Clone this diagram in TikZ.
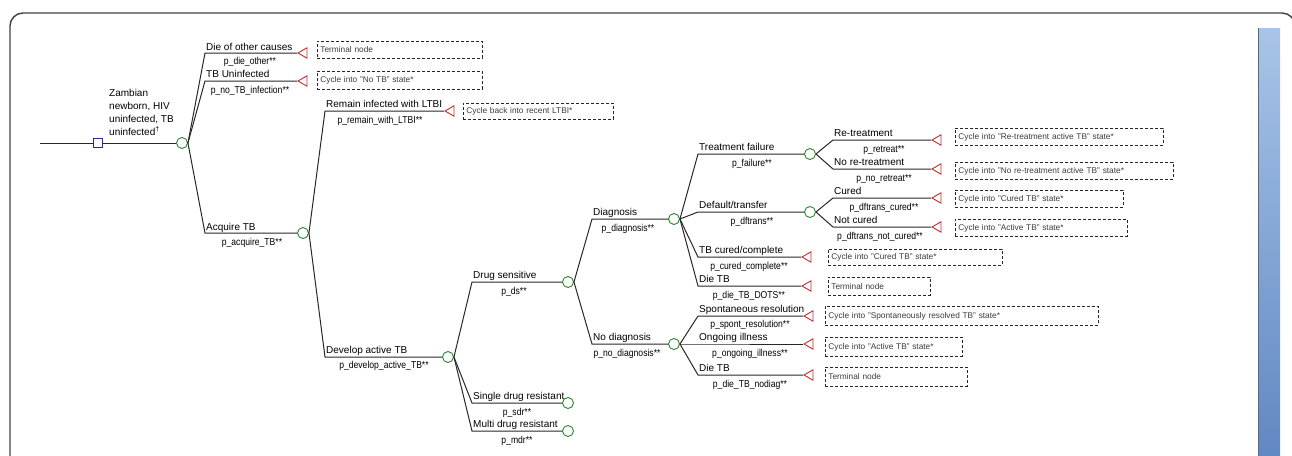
\documentclass[tikz,border=0pt]{standalone}
\usepackage{fontspec}
\setmainfont{Liberation Sans}
\newfontfamily\narrowfont[FakeStretch=0.86]{Liberation Sans}
\usetikzlibrary{shapes,positioning}
\definecolor{treeline}{RGB}{40,40,40}
\definecolor{chancegreen}{RGB}{40,135,40}
\definecolor{termred}{RGB}{200,45,45}
\definecolor{decblue}{RGB}{40,40,160}
\definecolor{barlight}{RGB}{168,196,232}
\definecolor{barmid}{RGB}{106,142,196}
\definecolor{bardark}{RGB}{96,136,194}
\definecolor{boxtext}{RGB}{60,60,60}

\begin{document}
\begin{tikzpicture}[x=1pt,y=-1pt]
\tikzstyle{branch}=[draw=treeline,line width=1pt]
\tikzstyle{chance}=[circle,draw=chancegreen,fill=white,line width=0.9pt,minimum size=11pt,inner sep=0pt]
\tikzstyle{terminal}=[regular polygon,regular polygon sides=3,shape border rotate=90,draw=termred,fill=white,line width=0.9pt,minimum size=12pt,inner sep=0pt]
\tikzstyle{decision}=[rectangle,draw=decblue,fill=white,line width=0.9pt,minimum size=9pt,inner sep=0pt]
\tikzstyle{lab}=[inner sep=0pt,anchor=base west,font=\fontsize{10}{13}\selectfont]
\tikzstyle{plab}=[inner sep=0pt,anchor=base,font=\narrowfont\fontsize{10}{12}\selectfont]
\tikzstyle{infobox}=[draw=black!85,fill=white,dash pattern=on 3pt off 2pt,line width=0.8pt,anchor=north west,align=left,inner xsep=3pt,inner ysep=0pt,text=boxtext,font=\fontsize{8.3}{9}\selectfont]
\useasboundingbox (0,0) rectangle (1292,455);

% frame and side bar
\draw[draw=black!75,line width=1.4pt,rounded corners=13pt] (10,462) -- (10,13) -- (1295,13) -- (1295,462);
\shade[top color=barlight,middle color=barmid,bottom color=bardark] (1258,28) rectangle (1280,455);
\draw[draw=black!60,line width=1pt] (1258.5,28) -- (1258.5,455);

% root
\coordinate (R0) at (40,143);
\node[decision] (S0) at (98,143) {};
\node[chance] (C0) at (182,143) {};
\draw[branch] (R0) -- (S0);
\draw[branch] (S0) -- (C0);
\node[lab,anchor=north west,align=left] (rootlab) at (109,89) {Zambian\\newborn, HIV\\uninfected, TB\\uninfected\textsuperscript{†}};

% first split
\coordinate (b1) at (205,53);
\coordinate (b2) at (205,81);
\coordinate (b3) at (205,233);
\node[terminal] (T1) at (304,53) {};
\node[terminal] (T2) at (304,81) {};
\node[chance] (C1) at (303,233) {};
\draw[branch] (C0.east) -- (b1) -- (T1);
\draw[branch] (C0.east) -- (b2) -- (T2);
\draw[branch] (C0.east) -- (b3) -- (C1);
\node[lab] (lab1) at (206,50) {Die of other causes};
\node[plab] (p1) at (250,64) {p\_die\_other**};
\node[lab] (lab2) at (206,77) {TB Uninfected};
\node[plab] (p2) at (250,93) {p\_no\_TB\_infection**};
\node[lab] (lab3) at (206,230) {Acquire TB};
\node[plab] (p3) at (252,245) {p\_acquire\_TB**};
\node[infobox,text width=159pt,minimum height=17pt] (box1) at (317,41) {Terminal node};
\node[infobox,text width=159pt,minimum height=18pt] (box2) at (317,71) {Cycle into "No TB" state*};

% acquire TB
\coordinate (b4) at (325,111);
\coordinate (b5) at (325,357);
\node[terminal] (T3) at (451,111) {};
\node[chance] (C2) at (448,357) {};
\draw[branch] (C1.east) -- (b4) -- (T3);
\draw[branch] (C1.east) -- (b5) -- (C2);
\node[lab] (lab4) at (326,107) {Remain infected with LTBI};
\node[plab] (p4) at (380,123) {p\_remain\_with\_LTBI**};
\node[lab] (lab5) at (326,353) {Develop active TB};
\node[plab] (p5) at (384,368) {p\_develop\_active\_TB**};
\node[infobox,text width=144pt,minimum height=16pt] (box3) at (463,103) {Cycle back into recent LTBI*};

% develop active TB
\coordinate (b6) at (472,282);
\coordinate (b7) at (472,403);
\coordinate (b8) at (472,431);
\node[chance] (C3) at (568,282) {};
\node[chance] (C4) at (568,403) {};
\node[chance] (C5) at (568,431) {};
\draw[branch] (C2.east) -- (b6) -- (C3);
\draw[branch] (C2.east) -- (b7) -- (C4);
\draw[branch] (C2.east) -- (b8) -- (C5);
\node[lab] (lab6) at (473,278) {Drug sensitive};
\node[plab] (p6) at (514,294) {p\_ds**};
\node[lab] (lab7) at (473,399) {Single drug resistant};
\node[plab] (p7) at (517,415) {p\_sdr**};
\node[lab] (lab8) at (473,427) {Multi drug resistant};
\node[plab] (p8) at (517,443) {p\_mdr**};

% drug sensitive
\coordinate (b9) at (592,219);
\coordinate (b10) at (592,344);
\node[chance] (C6) at (674,219) {};
\node[chance] (C7) at (674,344) {};
\draw[branch] (C3.east) -- (b9) -- (C6);
\draw[branch] (C3.east) -- (b10) -- (C7);
\node[lab] (lab9) at (593,215) {Diagnosis};
\node[plab] (p9) at (628,231) {p\_diagnosis**};
\node[lab] (lab10) at (593,340) {No diagnosis};
\node[plab] (p10) at (627,356) {p\_no\_diagnosis**};

% diagnosis
\coordinate (b11) at (698,154);
\coordinate (b12) at (698,212);
\coordinate (b13) at (698,257);
\coordinate (b14) at (698,286);
\node[chance] (C8) at (810,154) {};
\node[chance] (C9) at (810,212) {};
\node[terminal] (T4) at (808,257) {};
\node[terminal] (T5) at (808,286) {};
\draw[branch] (C6.east) -- (b11) -- (C8);
\draw[branch] (C6.east) -- (b12) -- (C9);
\draw[branch] (C6.east) -- (b13) -- (T4);
\draw[branch] (C6.east) -- (b14) -- (T5);
\node[lab] (lab11) at (699,150) {Treatment failure};
\node[plab] (p11) at (752,166) {p\_failure**};
\node[lab] (lab12) at (699,208) {Default/transfer};
\node[plab] (p12) at (752,224) {p\_dftrans**};
\node[lab] (lab13) at (699,253) {TB cured/complete};
\node[plab] (p13) at (749,269) {p\_cured\_complete**};
\node[lab] (lab14) at (699,282) {Die TB};
\node[plab] (p14) at (749,298) {p\_die\_TB\_DOTS**};
\node[infobox,text width=168pt,minimum height=16pt] (box8) at (828,249) {Cycle into "Cured TB" state*};
\node[infobox,text width=96pt,minimum height=18pt] (box9) at (828,277) {Terminal node};

% no diagnosis
\coordinate (b15) at (698,316);
\coordinate (b16) at (698,344);
\coordinate (b17) at (698,375);
\node[terminal] (T6) at (810,316) {};
\node[terminal] (T7) at (810,344) {};
\node[terminal] (T8) at (810,375) {};
\draw[branch] (C7.east) -- (b15) -- (T6);
\draw[branch] (C7.east) -- (b16) -- (T7);
\draw[branch] (C7.east) -- (b17) -- (T8);
\node[lab] (lab15) at (699,312) {Spontaneous resolution};
\node[plab] (p15) at (750,327) {p\_spont\_resolution**};
\node[lab] (lab16) at (699,340) {Ongoing illness};
\node[plab] (p16) at (750,356) {p\_ongoing\_illness**};
\node[lab] (lab17) at (699,371) {Die TB};
\node[plab] (p17) at (750,387) {p\_die\_TB\_nodiag**};
\node[infobox,text width=267pt,minimum height=19pt] (box10) at (825,306) {Cycle into "Spontaneously resolved TB" state*};
\node[infobox,text width=131pt,minimum height=19pt] (box11) at (825,337) {Cycle into "Active TB" state*};
\node[infobox,text width=136pt,minimum height=19pt] (box12) at (825,367) {Terminal node};

% treatment failure and default
\coordinate (b18) at (833,140);
\coordinate (b19) at (833,169);
\coordinate (b20) at (833,198);
\coordinate (b21) at (833,227);
\node[terminal] (T9) at (938,140) {};
\node[terminal] (T10) at (938,169) {};
\node[terminal] (T11) at (938,198) {};
\node[terminal] (T12) at (938,227) {};
\draw[branch] (C8.east) -- (b18) -- (T9);
\draw[branch] (C8.east) -- (b19) -- (T10);
\draw[branch] (C9.east) -- (b20) -- (T11);
\draw[branch] (C9.east) -- (b21) -- (T12);
\node[lab] (lab18) at (834,136) {Re-treatment};
\node[plab] (p18) at (884,152) {p\_retreat**};
\node[lab] (lab19) at (834,165) {No re-treatment};
\node[plab] (p19) at (884,181) {p\_no\_retreat**};
\node[lab] (lab20) at (834,194) {Cured};
\node[plab] (p20) at (884,210) {p\_dftrans\_cured**};
\node[lab] (lab21) at (834,223) {Not cured};
\node[plab] (p21) at (880,239) {p\_dftrans\_not\_cured**};
\node[infobox,text width=202pt,minimum height=17pt] (box4) at (955,128) {Cycle into "Re-treatment active TB" state*};
\node[infobox,text width=212pt,minimum height=17pt] (box5) at (955,162) {Cycle into "No re-treatment active TB" state*};
\node[infobox,text width=162pt,minimum height=17pt] (box6) at (955,190) {Cycle into "Cured TB" state*};
\node[infobox,text width=166pt,minimum height=17pt] (box7) at (955,219) {Cycle into "Active TB" state*};
\end{tikzpicture}
\end{document}
